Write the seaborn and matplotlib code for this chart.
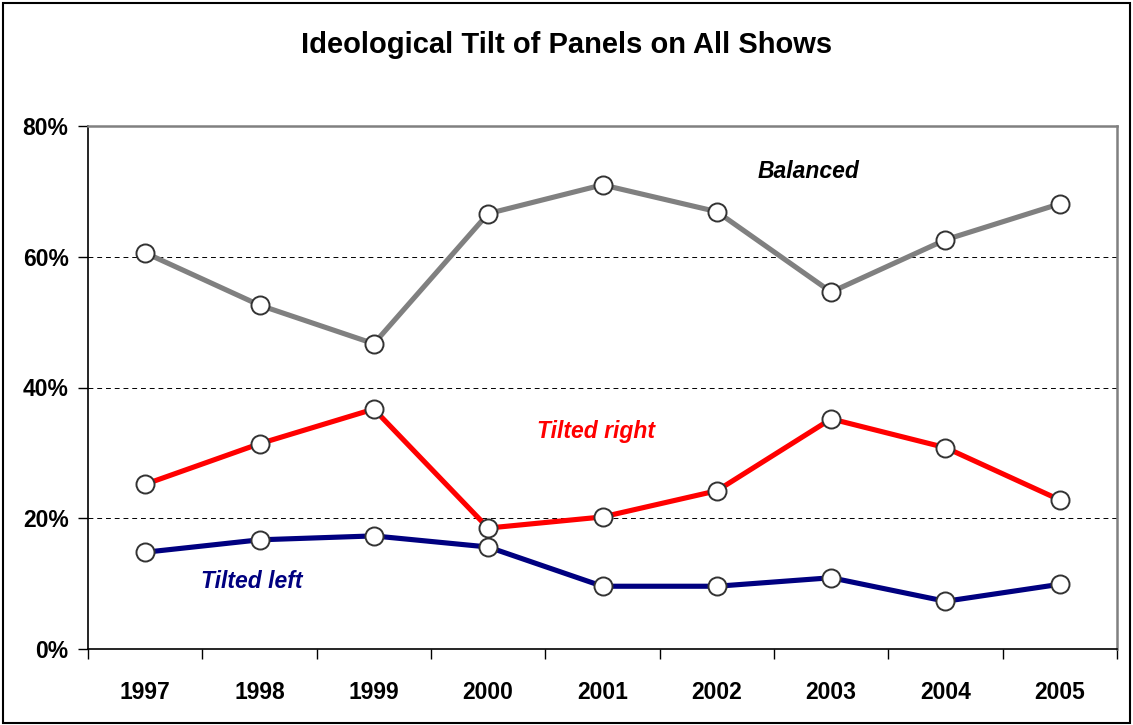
import numpy as np
import pandas as pd
import matplotlib
matplotlib.use("Agg")
import matplotlib.pyplot as plt
import seaborn as sns

# data
years = ["1997", "1998", "1999", "2000", "2001", "2002", "2003", "2004", "2005"]
balanced = [60.6, 52.6, 46.7, 66.6, 71.0, 66.9, 54.6, 62.6, 68.1]
tilted_right = [25.2, 31.4, 36.7, 18.5, 20.2, 24.2, 35.2, 30.8, 22.8]
tilted_left = [14.8, 16.7, 17.3, 15.6, 9.6, 9.6, 10.9, 7.3, 9.9]

series_names = ["Balanced", "Tilted right", "Tilted left"]
series_colors = {"Balanced": "#808080", "Tilted right": "#FF0000", "Tilted left": "#000080"}

df = pd.DataFrame({
    "pos": list(range(len(years))) * 3,
    "value": balanced + tilted_right + tilted_left,
    "series": np.repeat(series_names, len(years)),
})

sns.set_style("white")
plt.rcParams["font.family"] = ["Liberation Sans", "DejaVu Sans"]
plt.rcParams["text.color"] = "black"
plt.rcParams["xtick.color"] = "black"
plt.rcParams["ytick.color"] = "black"

fig = plt.figure(figsize=(11.33, 7.25), dpi=100)
ax = fig.add_axes([88 / 1133, 76 / 725, (1117 - 88) / 1133, (649 - 126) / 725])

# dashed gridlines
for g in [20, 40, 60]:
    ax.axhline(g, color="black", lw=0.7, ls=(0, (5, 4)), zorder=0)

sns.lineplot(data=df, x="pos", y="value", hue="series", palette=series_colors,
             hue_order=series_names, lw=3.7, marker="o", markersize=13,
             markerfacecolor="white", markeredgecolor="#333333", markeredgewidth=1.4,
             legend=False, ax=ax)

ax.set_xlim(-0.5, len(years) - 0.5)
ax.set_ylim(0, 80)
ax.set_xticks(range(len(years)))
ax.set_xticklabels(years, fontsize=16.5, fontweight="bold")
ax.set_xticks(np.arange(-0.5, len(years), 1), minor=True)
ax.tick_params(axis="x", which="major", bottom=True, length=0, pad=23)
ax.tick_params(axis="x", which="minor", bottom=True, length=7, width=1, color="black", direction="out")
ax.set_yticks([0, 20, 40, 60, 80])
ax.set_yticklabels([f"{v}%" for v in [0, 20, 40, 60, 80]], fontsize=16.5, fontweight="bold")
ax.tick_params(axis="y", left=True, length=7, width=1, color="black", direction="out", pad=7)
ax.set_xlabel("")
ax.set_ylabel("")

for side in ["left", "bottom"]:
    ax.spines[side].set_color("black")
    ax.spines[side].set_linewidth(1.2)
for side in ["top", "right"]:
    ax.spines[side].set_visible(True)
    ax.spines[side].set_color("#808080")
    ax.spines[side].set_linewidth(1.8)

# series labels
ax.text(5.8, 73, "Balanced", color="black", fontsize=16.5, fontweight="bold",
        fontstyle="italic", ha="center", va="center")
ax.text(3.94, 33.2, "Tilted right", color="#FF0000", fontsize=16.5, fontweight="bold",
        fontstyle="italic", ha="center", va="center")
ax.text(0.93, 10.4, "Tilted left", color="#000080", fontsize=16.5, fontweight="bold",
        fontstyle="italic", ha="center", va="center")

fig.text(0.5, 1 - 45 / 725, "Ideological Tilt of Panels on All Shows", ha="center",
         va="center", fontsize=21, fontweight="bold")

# outer chart border
fig.patches.append(plt.Rectangle((3 / 1133, 2 / 725), 1127 / 1133, 720 / 725,
                                 transform=fig.transFigure, fill=False,
                                 edgecolor="black", lw=1.5))

fig.savefig("out.png", dpi=100)
